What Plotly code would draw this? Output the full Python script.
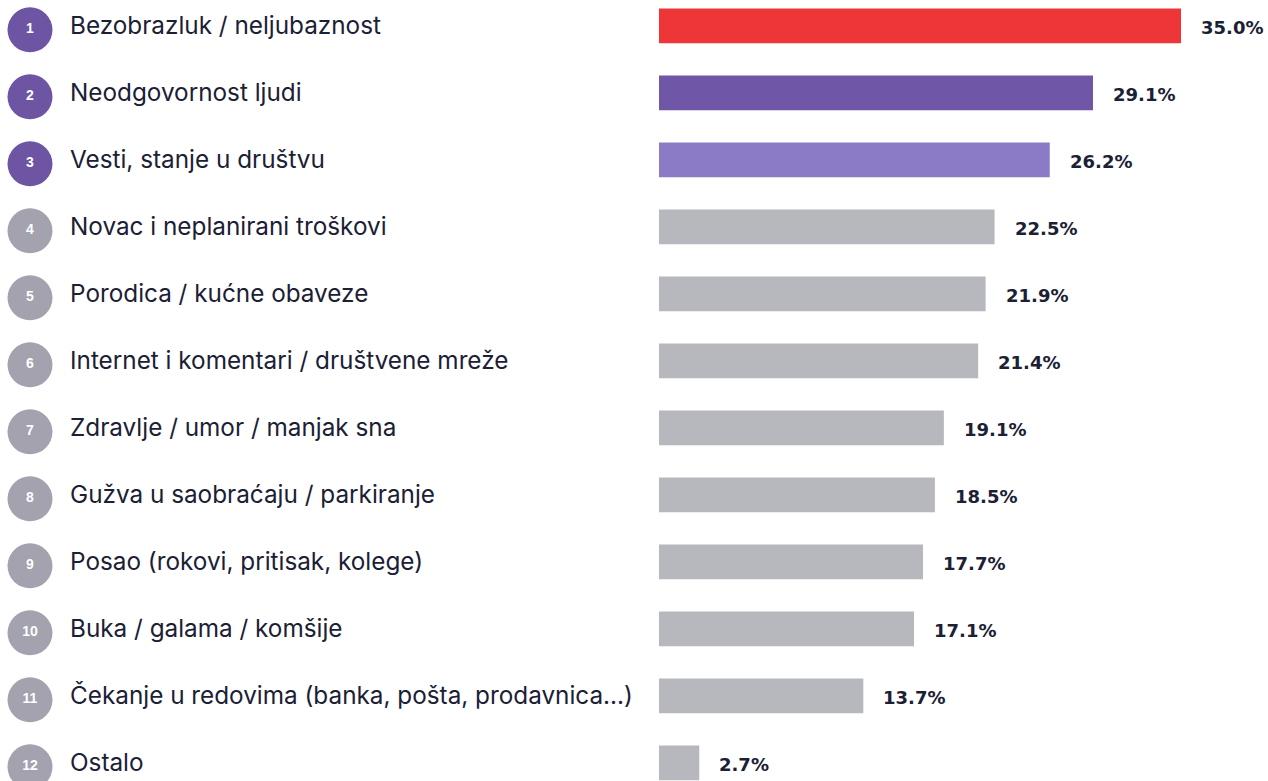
import plotly.graph_objects as go

# ---- data ----
categories = [
    "Bezobrazluk / neljubaznost",
    "Neodgovornost ljudi",
    "Vesti, stanje u društvu",
    "Novac i neplanirani troškovi",
    "Porodica / kućne obaveze",
    "Internet i komentari / društvene mreže",
    "Zdravlje / umor / manjak sna",
    "Gužva u saobraćaju / parkiranje",
    "Posao (rokovi, pritisak, kolege)",
    "Buka / galama / komšije",
    "Čekanje u redovima (banka, pošta, prodavnica...)",
    "Ostalo",
]
values = [35.0, 29.1, 26.2, 22.5, 21.9, 21.4, 19.1, 18.5, 17.7, 17.1, 13.7, 2.7]
ranks = ["1", "2", "3", "4", "5", "6", "7", "8", "9", "10", "11", "12"]

# ---- styles ----
RED = "#ee3639"
PURPLE = "#6f56a6"
LIGHT_PURPLE = "#8b7bc6"
GRAY = "#b7b8bd"
CIRCLE_PURPLE = "#6e55a4"
CIRCLE_GRAY = "#a3a2ae"
TEXT = "#1b2035"

bar_colors = [RED, PURPLE, LIGHT_PURPLE] + [GRAY] * 9
circle_colors = [CIRCLE_PURPLE] * 3 + [CIRCLE_GRAY] * 9

W, H = 1268, 781
row_px = 67.0
first_center = 25.8
y_top = -first_center / row_px
y_bot = (H - first_center) / row_px
bar_left_px = 659
px_per_unit = (1181 - 659) / 35.0
x_max = (W - bar_left_px) / px_per_unit
circle_shift_px = 4.0
shift_left = circle_shift_px / row_px  # circles sit slightly lower than bars

idx = list(range(len(categories)))

fig = go.Figure()

fig.add_trace(go.Bar(
    x=values, y=idx, orientation="h",
    marker=dict(color=bar_colors, line=dict(width=0)),
    width=34.8 / row_px,
    xaxis="x", yaxis="y",
    hoverinfo="skip", showlegend=False,
))

fig.add_trace(go.Scatter(
    x=[30] * len(idx), y=idx, mode="markers+text",
    marker=dict(size=45, color=circle_colors, line=dict(width=0)),
    text=ranks, textposition="middle center",
    textfont=dict(family="Liberation Sans", size=14, color="white", weight="bold"),
    xaxis="x2", yaxis="y2",
    hoverinfo="skip", showlegend=False,
))

annotations = []
for i, (c, v) in enumerate(zip(categories, values)):
    annotations.append(dict(
        x=69, y=i, xref="x2", yref="y2", text=c, showarrow=False,
        xanchor="left", yanchor="middle", borderpad=0, yshift=circle_shift_px + 0.5,
        font=dict(family="Inter", size=24.3, color=TEXT),
    ))
    annotations.append(dict(
        x=v, y=i, xref="x", yref="y", text=f"{v:.1f}%", showarrow=False,
        xanchor="left", yanchor="middle", xshift=19, yshift=-2, borderpad=0,
        font=dict(family="DejaVu Sans", size=18, color=TEXT, weight="bold"),
    ))

fig.update_layout(
    width=W, height=H, autosize=False,
    margin=dict(l=0, r=0, t=0, b=0, pad=0),
    paper_bgcolor="white", plot_bgcolor="white",
    xaxis=dict(domain=[bar_left_px / W, 1], range=[0, x_max], visible=False, fixedrange=True, anchor="y"),
    yaxis=dict(domain=[0, 1], range=[y_bot, y_top], visible=False, fixedrange=True, anchor="x"),
    xaxis2=dict(domain=[0, bar_left_px / W], range=[0, bar_left_px], visible=False, fixedrange=True, anchor="y2"),
    yaxis2=dict(domain=[0, 1], range=[y_bot - shift_left, y_top - shift_left], visible=False, fixedrange=True, anchor="x2"),
    annotations=annotations,
    showlegend=False,
)

fig.write_html(
    "out.html",
    config={"displayModeBar": False},
    post_script="document.body.style.margin='0';document.body.style.overflow='hidden';",
)
